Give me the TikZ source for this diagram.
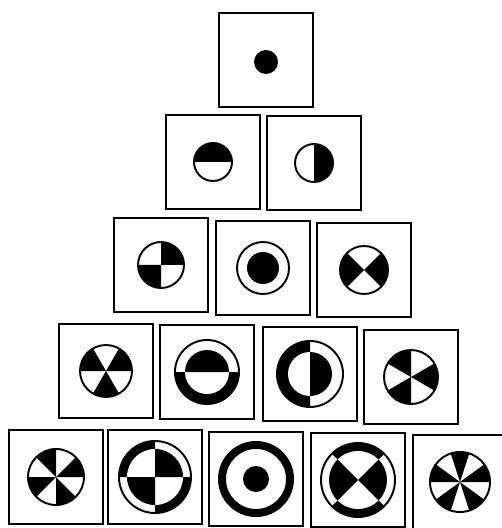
\documentclass[tikz,border=0pt]{standalone}
\usetikzlibrary{positioning}
\tikzset{
  every picture/.style={line width=1.1pt},
  cell/.style={draw, minimum size=18.8mm, inner sep=0pt},
  rim/.style={draw, line width=1.1pt},
}
\newcommand{\wedges}[2]{\foreach \a/\b in {#2} \fill (0,0) -- (\a:#1) arc[start angle=\a, end angle=\b, radius=#1] -- cycle;}

\begin{document}
\begin{tikzpicture}[x=0.2mm, y=0.2mm]
  \useasboundingbox (0,0) rectangle (502,-528);
  % pyramid of cells
  \node[cell] (z00) at (266,-60) {};
  \node[cell] (z1a) at (213,-162) {};
  \node[cell] (z1b) at (314,-163) {};
  \node[cell] (z2a) at (161,-265) {};
  \node[cell] (z2b) at (263,-268) {};
  \node[cell] (z2c) at (364,-270) {};
  \node[cell] (z3a) at (106,-371) {};
  \node[cell] (z3b) at (207,-372) {};
  \node[cell] (z3c) at (310,-374) {};
  \node[cell] (z3d) at (411,-377) {};
  \node[cell] (z4a) at (56,-477) {};
  \node[cell] (z4b) at (155,-477) {};
  \node[cell] (z4c) at (256,-479) {};
  \node[cell] (z4d) at (358,-480) {};
  \node[cell] (z4e) at (460,-482) {};

  \begin{scope}[shift={(z00.center)}]
    \fill (0,-2) circle[radius=12];
  \end{scope}
  \begin{scope}[shift={(z1a.center)}]
    \wedges{19}{0/180}
    \draw[rim] circle[radius=19];
  \end{scope}
  \begin{scope}[shift={(z1b.center)}]
    \wedges{19}{-90/90}
    \draw[rim] circle[radius=19];
  \end{scope}
  \begin{scope}[shift={(z2a.center)}]
    \wedges{23}{0/90,180/270}
    \draw[rim] circle[radius=23];
  \end{scope}
  \begin{scope}[shift={(z2b.center)}]
    \fill circle[radius=16];
    \draw[rim] circle[radius=26];
  \end{scope}
  \begin{scope}[shift={(z2c.center)}]
    \wedges{24}{135/225,-45/45}
    \draw[rim] circle[radius=24];
  \end{scope}
  \begin{scope}[shift={(z3a.center)}]
    \wedges{26}{0/60,120/180,240/300}
    \draw[rim] circle[radius=26];
  \end{scope}
  \begin{scope}[shift={(z3b.center)}]
    \wedges{32}{180/360}
    \fill[white] circle[radius=22];
    \wedges{22}{0/180}
    \draw[rim] circle[radius=32];
  \end{scope}
  \begin{scope}[shift={(z3c.center)}]
    \wedges{33}{90/270}
    \fill[white] circle[radius=22];
    \wedges{22}{-90/90}
    \draw[rim] circle[radius=33];
  \end{scope}
  \begin{scope}[shift={(z3d.center)}]
    \wedges{27}{90/150,210/270,330/390}
    \draw[rim] circle[radius=27];
  \end{scope}
  \begin{scope}[shift={(z4a.center)}]
    \wedges{28}{0/45,90/135,180/225,270/315}
    \draw[rim] circle[radius=28];
  \end{scope}
  \begin{scope}[shift={(z4b.center)}]
    \wedges{36}{90/180,270/360}
    \fill[white] circle[radius=28];
    \wedges{28}{0/90,180/270}
    \draw[rim] circle[radius=36];
  \end{scope}
  \begin{scope}[shift={(z4c.center)}]
    \fill[even odd rule] circle[radius=38] circle[radius=30];
    \fill circle[radius=13];
  \end{scope}
  \begin{scope}[shift={(z4d.center)}]
    \wedges{37}{45/135,225/315}
    \fill[white] circle[radius=29];
    \wedges{29}{135/225,-45/45}
    \draw[rim] circle[radius=37];
  \end{scope}
  \begin{scope}[shift={(z4e.center)}]
    \wedges{30}{0/36,72/108,144/180,216/252,288/324}
    \draw[rim] circle[radius=30];
  \end{scope}
\end{tikzpicture}
\end{document}
